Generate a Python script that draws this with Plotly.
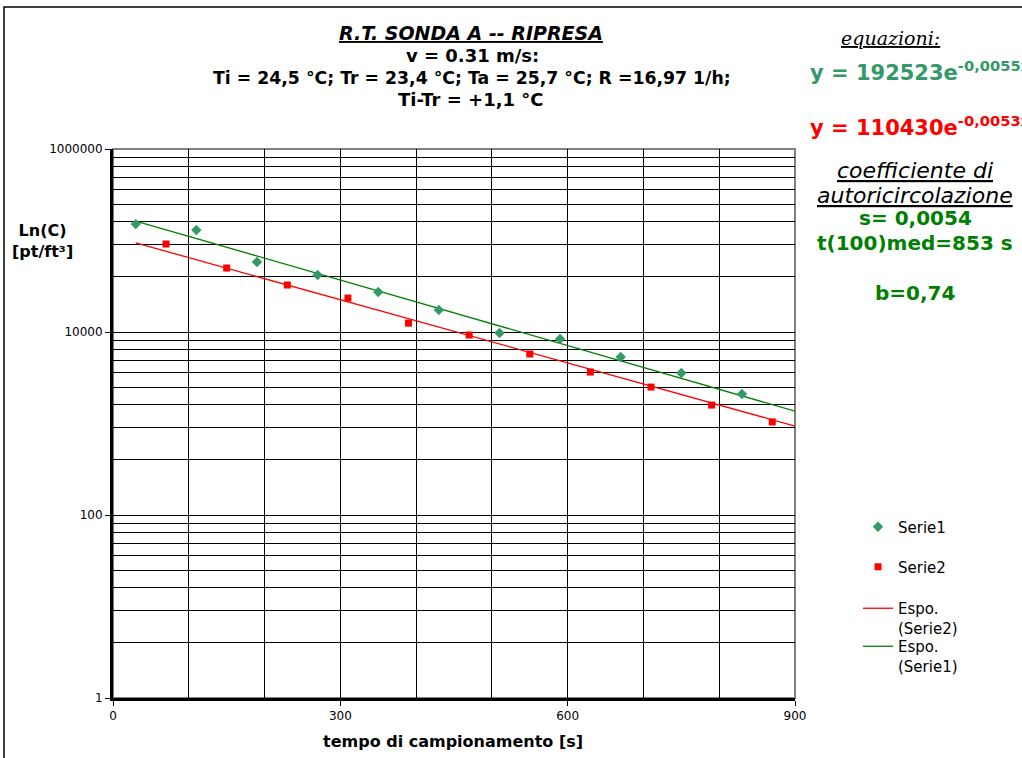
import numpy as np
import plotly.graph_objects as go

# ---- data ----
serie1_x = [30, 110, 190, 270, 350, 430, 510, 590, 670, 750, 830]
serie1_y = [151000, 130000, 58200, 42000, 27400, 17400, 9750, 8380, 5330, 3560, 2100]
serie2_x = [70, 150, 230, 310, 390, 470, 550, 630, 710, 790, 870]
serie2_y = [91600, 50000, 32600, 23500, 12500, 9270, 5750, 3650, 2500, 1590, 1040]

# trendline equations shown in the chart: y = a * e^(b x)
trend1_a, trend1_b = 192523, -0.0055
trend2_a, trend2_b = 110430, -0.0053
trend_x = [30, 900]

y_tickvals = [1, 100, 10000, 1000000]
y_ticktext = ["1", "100", "10000", "1000000"]
x_tickvals = [0, 300, 600, 900]

# minor gridlines (log base 100 axis -> k^2 positions inside each major step)
y_minor = [v * k ** 2 for v in y_tickvals[:-1] for k in range(2, 10)]

trend1_y = [trend1_a * np.exp(trend1_b * x) for x in trend_x]
trend2_y = [trend2_a * np.exp(trend2_b * x) for x in trend_x]

FONT = "DejaVu Sans"
SERIF = "DejaVu Serif"
SEAGREEN = "#339966"
GREEN = "#008000"
RED = "#FF0000"

fig = go.Figure()
fig.add_trace(go.Scatter(x=trend_x, y=trend1_y, mode="lines", name="Espo.<br>(Serie1)",
                         line=dict(color=GREEN, width=1.3), legend="legend4"))
fig.add_trace(go.Scatter(x=trend_x, y=trend2_y, mode="lines", name="Espo.<br>(Serie2)",
                         line=dict(color=RED, width=1.3), legend="legend3"))
fig.add_trace(go.Scatter(x=serie1_x, y=serie1_y, mode="markers", name="Serie1",
                         marker=dict(symbol="diamond", size=8, color=SEAGREEN), legend="legend"))
fig.add_trace(go.Scatter(x=serie2_x, y=serie2_y, mode="markers", name="Serie2",
                         marker=dict(symbol="square", size=7, color=RED), legend="legend2"))

W, H = 1022, 758
L, R, T, B = 113, 795, 149, 698
pw, ph = R - L, B - T


def px(x):
    return (x - L) / pw


def py(y):
    return (B - y) / ph


leg_common = dict(bgcolor="rgba(0,0,0,0)", borderwidth=0, font=dict(family=FONT, size=15, color="black"),
                  xanchor="left", valign="top")
fig.update_layout(
    legend=dict(x=px(858), y=py(527), yanchor="middle", **leg_common),
    legend2=dict(x=px(858), y=py(567), yanchor="middle", **leg_common),
    legend3=dict(x=px(858), y=py(592), yanchor="top", **leg_common),
    legend4=dict(x=px(858), y=py(630), yanchor="top", **leg_common),
)

fig.update_layout(
    width=W, height=H,
    margin=dict(l=L, r=W - R, t=T, b=H - B, pad=0),
    paper_bgcolor="white", plot_bgcolor="white",
    font=dict(family=FONT, size=12, color="black"),
    showlegend=True,
    xaxis=dict(range=[0, 900], tickmode="array", tickvals=x_tickvals,
               showgrid=True, gridcolor="black", gridwidth=1,
               minor=dict(dtick=100, tick0=0, showgrid=True, gridcolor="black", gridwidth=1),
               zeroline=False, showline=True, linecolor="black", linewidth=3,
               ticks="outside", ticklen=5, tickcolor="black", tickwidth=1,
               tickfont=dict(family=FONT, size=12)),
    yaxis=dict(type="log", range=[0, 6], tickmode="array", tickvals=y_tickvals, ticktext=y_ticktext,
               showgrid=True, gridcolor="black", gridwidth=1,
               minor=dict(tickmode="array", tickvals=y_minor, showgrid=True, gridcolor="black", gridwidth=1),
               zeroline=False, showline=True, linecolor="black", linewidth=3,
               ticks="outside", ticklen=5, tickcolor="black", tickwidth=1,
               tickfont=dict(family=FONT, size=12)),
)

# plot area border (gray) and outer frame
fig.add_shape(type="rect", xref="paper", yref="paper", x0=0, x1=1, y0=0, y1=1,
              line=dict(color="#808080", width=2), layer="below")
fig.add_shape(type="rect", xref="paper", yref="paper", x0=px(4), x1=px(1040), y0=py(780), y1=py(7),
              line=dict(color="black", width=1.5))

ann = []


def add_text(text, x, y, size, color="black", family=FONT, xanchor="center"):
    ann.append(dict(text=text, x=px(x), y=py(y), xref="paper", yref="paper", showarrow=False,
                    xanchor=xanchor, yanchor="middle", font=dict(family=family, size=size, color=color)))


add_text("<b><i><u>R.T. SONDA A -- RIPRESA</u></i></b>", 471, 33, 19)
add_text("<b>v = 0.31 m/s:</b>", 472, 55, 18)
add_text("<b>Ti = 24,5 °C; Tr = 23,4 °C; Ta = 25,7 °C; R =16,97 1/h;</b>", 472, 78, 17.3)
add_text("<b>Ti-Tr = +1,1 °C</b>", 471, 100, 18)

add_text("<i><u>equazioni:</u></i>", 890, 38, 19, family=SERIF)
add_text("<b>y = 192523e<sup>-0,0055x</sup></b>", 808, 71, 21, color=SEAGREEN, xanchor="left")
add_text("<b>y = 110430e<sup>-0,0053x</sup></b>", 808, 126, 21, color=RED, xanchor="left")
add_text("<i><u>coefficiente di</u></i>", 915, 171, 22)
add_text("<i><u>autoricircolazione</u></i>", 915, 195, 22)
add_text("<b>s= 0,0054</b>", 915, 218, 20)
add_text("<b>t(100)med=853 s</b>", 915, 243, 20)
add_text("<b>b=0,74</b>", 915, 293, 20)
for a in ann[-3:]:
    a["font"]["color"] = GREEN

add_text("<b>Ln(C)<br>[pt/ft³]</b>", 42, 241, 16)
add_text("<b>tempo di campionamento [s]</b>", 453, 741, 16)

fig.update_layout(annotations=ann)

fig.write_html("out.html")
